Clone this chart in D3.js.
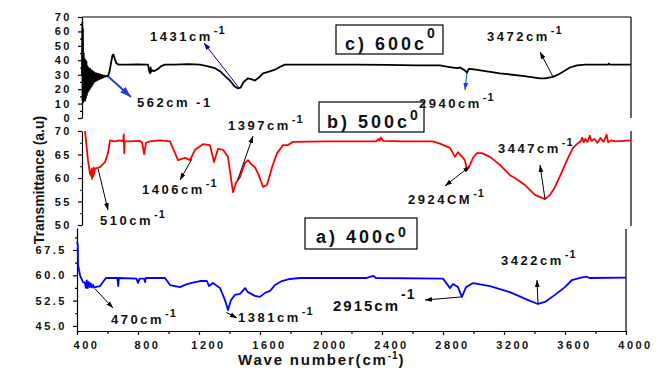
<!DOCTYPE html>
<html>
<head>
<meta charset="utf-8">
<script src="https://cdn.jsdelivr.net/npm/d3@7"></script>
<style>
  body { margin: 0; background: #fff; }
  svg text { font-family: "Liberation Sans", Arial, sans-serif; font-weight: bold; fill: #111; }
</style>
</head>
<body>
<svg id="chart" width="662" height="374"></svg>
<script>
// FTIR spectra, [wave number, transmittance]
const spectrum600 = [[400,30],[402,66],[404,12],[406,62],[408,11],[411,45],[414,13],[417,41],[420,12],[423,40],
  [426,14],[429,39],[432,16],[435,36],[438,18],[441,35],[444,19],[447,34],[450,20],[453,34],[456,21],[459,33],
  [462,22],[465,33],[468,23],[471,32],[474,24],[477,32],[480,25],[484,31],[488,25.5],[492,31],[496,26],[500,30.5],
  [505,26.5],[510,30.5],[515,27],[520,30],[526,27.5],[532,29.8],[538,28],[545,29.5],[552,28.5],[560,29.2],[570,29],
  [580,32],[590,38],[600,43.5],[606,44],[615,41],[625,38],[640,37],[700,37],[760,37.2],[833,37],[840,33],[846,31],
  [850,35],[855,32],[862,33],[875,32.5],[898,34],[920,36],[944,37],[1000,37],[1100,37.3],[1174,37],[1220,36],
  [1272,34.5],[1310,32],[1338,29],[1370,26],[1400,22],[1423,20.5],[1440,21],[1460,25],[1489,27.5],[1510,27],
  [1534,26],[1560,28],[1587,31],[1620,32],[1666,33.5],[1700,35.5],[1731,37],[1800,37],[2000,37],[2200,37],
  [2400,36.8],[2600,36.5],[2748,36.5],[2800,35.5],[2859,34.5],[2880,35],[2910,33],[2925,31.5],[2935,34],[2960,33.8],
  [3141,31],[3300,29],[3403,27.5],[3436,27.5],[3489,28.5],[3530,30.5],[3554,32],[3600,35],[3646,36.5],[3700,37],
  [3800,37],[3850,37],[3855,37.8],[3860,37],[3900,37],[4000,37]];

const spectrum500 = [[420,70],[426,68],[439,63.8],[452,61],[459,60.5],[463,62],[466,59.8],[470,61.5],[473,60.3],
  [477,62.2],[480,60.8],[485,62],[518,62.3],[551,63.4],[570,65.3],[584,68],[616,67.8],[649,68],[670,67.8],[674,69.3],
  [677,65.3],[680,67.8],[715,67.8],[780,67.9],[795,67.5],[807,65.1],[820,67.5],[846,67.8],[911,68],[977,67.8],
  [1010,65.3],[1030,63.8],[1075,64.3],[1108,63.8],[1141,66],[1193,67.2],[1239,67],[1266,63.4],[1292,66.2],
  [1325,66],[1357,64.5],[1390,57],[1410,59],[1436,60.2],[1469,63.2],[1488,63.8],[1515,62.8],[1534,62.3],[1554,61],
  [1587,58.1],[1613,58.5],[1646,62.3],[1679,65.3],[1718,67],[1751,67],[1784,67.7],[2000,67.8],[2200,67.8],
  [2330,67.8],[2345,68.3],[2350,67.9],[2360,68.6],[2375,67.9],[2500,67.8],[2700,67.8],[2747,67.3],[2813,66.4],
  [2846,64.5],[2865,65.5],[2911,63.8],[2924,61.7],[2944,62.8],[2964,64.3],[2990,65.3],[3023,65.3],[3075,64.5],
  [3141,62.8],[3206,60.6],[3239,60],[3305,58.5],[3370,56.4],[3436,55.5],[3469,56.4],[3502,58.1],[3547,61.3],
  [3587,64.3],[3620,66.4],[3652,67.4],[3670,67.8],[3680,68.6],[3690,67.6],[3700,68.3],[3715,67.7],[3730,69],
  [3740,67.9],[3760,68.3],[3780,67.5],[3800,68.5],[3820,67.7],[3840,69.2],[3850,67.6],[3870,68],[3900,67.8],
  [3950,67.9],[4000,68]];

const spectrum400 = [[400,70],[405,69],[407,63],[420,60],[439,58],[452,57.8],[458,56.3],[464,58.5],[470,56.2],
  [477,58],[484,56.5],[490,57.6],[497,56.4],[505,57.2],[512,56.3],[518,56.5],[551,56.8],[570,58],[590,59.2],
  [665,59.2],[670,56.8],[675,59.2],[790,59],[800,57.7],[810,59],[840,59],[846,58],[852,59.2],[977,59.2],
  [1010,57.1],[1075,56.5],[1121,57.4],[1174,58],[1207,58.3],[1252,58.3],[1266,56.8],[1292,57.7],[1338,56.2],
  [1370,52.7],[1390,49.7],[1410,52.7],[1436,54.2],[1469,54.5],[1502,56.2],[1521,55],[1567,53.9],[1600,53.6],
  [1633,54.8],[1666,55.4],[1698,57.1],[1744,58.3],[1797,58.9],[1862,59.2],[2300,59.2],[2345,59.8],[2360,59.2],
  [2800,59],[2846,56.2],[2866,57.4],[2898,56.5],[2924,53.6],[2951,56.5],[2997,57.7],[3108,56.8],[3239,55],
  [3370,52.4],[3423,51.5],[3469,52.1],[3534,54.2],[3600,56.5],[3646,58.6],[3698,59.2],[3740,59.6],[3760,59.2],
  [4000,59.3]];

const xTicks = [400, 800, 1200, 1600, 2000, 2400, 2800, 3200, 3600, 4000];
const xMinor = [600, 1000, 1400, 1800, 2200, 2600, 3000, 3400, 3800];
const yTicks600 = [0, 10, 20, 30, 40, 50, 60, 70];
const yMinor600 = [5, 15, 25, 35, 45, 55, 65];
const yTicks500 = [50, 55, 60, 65, 70];
const yMinor500 = [52.5, 57.5, 62.5, 67.5];
const yTicks400 = [45, 52.5, 60, 67.5];
const yMinor400 = [48.75, 56.25, 63.75, 71.25];

const svg = d3.select("#chart");

// arrow heads
const defs = svg.append("defs");
function head(id, color, size) {
  defs.append("marker").attr("id", id)
    .attr("viewBox", "0 -5 10 10").attr("refX", 10).attr("refY", 0)
    .attr("markerUnits", "userSpaceOnUse")
    .attr("markerWidth", size).attr("markerHeight", size)
    .attr("orient", "auto-start-reverse")
    .append("path").attr("d", "M0,-3.5L10,0L0,3.5Z").attr("fill", color);
}
head("hk", "#000", 7);
head("hn", "#00008b", 7);
head("hb", "#1c3fd6", 7);
head("hbig", "#1c3fd6", 11);

// scales: upper two panels sit 5px right of the bottom one
const xUp = d3.scaleLinear().domain([400, 4000]).range([82, 631]);
const xLow = d3.scaleLinear().domain([400, 4000]).range([77, 626]);
const y600 = d3.scaleLinear().domain([0, 70]).range([118, 17]);
const y500 = d3.scaleLinear().domain([50, 70]).range([225, 131]);
const y400 = d3.scaleLinear().domain([43.5, 74]).range([331, 228]);

function yAxis(x, scale, major, minor, fmt) {
  const g = svg.append("g").attr("transform", "translate(" + x + ",0)");
  g.call(d3.axisLeft(scale).tickValues(major).tickSize(4).tickSizeOuter(0).tickPadding(8).tickFormat(fmt));
  g.append("g").call(d3.axisLeft(scale).tickValues(minor).tickSize(2).tickFormat(""))
    .select(".domain").remove();
  g.selectAll("path, line").attr("stroke", "#000").attr("stroke-width", 1.2);
  g.selectAll("text").style("font-size", "11px").style("letter-spacing", "2.5px")
    .attr("dx", 2).attr("fill", "#111");
}
yAxis(82, y600, yTicks600, yMinor600, d3.format("d"));
yAxis(82, y500, yTicks500, yMinor500, d3.format("d"));
yAxis(77, y400, yTicks400, yMinor400, d3.format(".1f"));

// bottom x axis
const gx = svg.append("g").attr("transform", "translate(0,331)");
gx.call(d3.axisBottom(xLow).tickValues(xTicks).tickSize(4).tickSizeOuter(0).tickPadding(6).tickFormat(d3.format("d")));
gx.append("g").call(d3.axisBottom(xLow).tickValues(xMinor).tickSize(3).tickFormat("")).select(".domain").remove();
gx.selectAll("path, line").attr("stroke", "#000").attr("stroke-width", 1.2);
gx.selectAll("text").style("font-size", "11px").style("letter-spacing", "2.5px").attr("dx", 9).attr("fill", "#111");

// frame pieces
const frame = [[82, 17, 631, 17], [631, 17, 631, 118], [631, 131, 631, 226], [626, 229, 626, 331]];
svg.selectAll(".frame").data(frame).enter().append("line")
  .attr("x1", d => d[0]).attr("y1", d => d[1]).attr("x2", d => d[2]).attr("y2", d => d[3])
  .attr("stroke", "#000").attr("stroke-width", 1.2);

// spectra
function draw(data, x, y, color) {
  svg.append("path").datum(data)
    .attr("d", d3.line().x(d => x(d[0])).y(d => y(d[1])))
    .attr("fill", "none").attr("stroke", color).attr("stroke-width", 1.8).attr("stroke-linejoin", "round");
}
draw(spectrum600, xUp, y600, "#000");
draw(spectrum500, xUp, y500, "#ff0000");
draw(spectrum400, xLow, y400, "#0000ff");

// temperature boxes
const boxes = [
  { x: 336, y: 25, w: 107, h: 29, t: "c) 600c", tx: 345, ty: 50, sy: 38 },
  { x: 319, y: 102, w: 105, h: 30, t: "b) 500c", tx: 327, ty: 128, sy: 120 },
  { x: 305, y: 218, w: 112, h: 31, t: "a) 400c", tx: 316, ty: 243, sy: 237 }
];
boxes.forEach(b => {
  svg.append("rect").attr("x", b.x).attr("y", b.y).attr("width", b.w).attr("height", b.h)
    .attr("fill", "none").attr("stroke", "#000").attr("stroke-width", 1.2);
  const t = svg.append("text").attr("x", b.tx).attr("y", b.ty)
    .style("font-size", "18px").style("letter-spacing", "3px").text(b.t);
  t.append("tspan").attr("dy", b.sy - b.ty).style("font-size", "14px").style("letter-spacing", "0px").text("0");
});

// peak annotations
const notes = [
  { t: "1431cm", s: "-1", tx: 150, ty: 41, from: [xUp(1425), y600(21.5)], to: [204, 43], c: "#00008b", m: "hn", w: 1 },
  { t: "562cm -1", s: "", tx: 137, ty: 107, from: [xUp(570), y600(29)], to: [131, 97], c: "#1c3fd6", m: "hbig", w: 2 },
  { t: "3472cm", s: "-1", tx: 487, ty: 41, from: [xUp(3489), y600(28.5)], to: [540, 52], c: "#000", m: "hk", w: 1 },
  { t: "2940cm", s: "-1", tx: 419, ty: 108, from: [xUp(2925), y600(31.5)], to: [465, 90], c: "#1c3fd6", m: "hb", w: 1 },
  { t: "1397cm", s: "-1", tx: 228, ty: 130, from: [xUp(1420), y500(59.5)], to: [253, 136], c: "#000", m: "hk", w: 1 },
  { t: "1406cm", s: "-1", tx: 142, ty: 194, from: [xUp(1120), y500(64)], to: [180, 180], c: "#000", m: "hk", w: 1 },
  { t: "510cm", s: "-1", tx: 100, ty: 225, from: [xUp(505), y500(62)], to: [108, 210], c: "#000", m: "hk", w: 1 },
  { t: "2924CM", s: "-1", tx: 408, ty: 204, from: [xUp(2944), y500(62.5)], to: [445, 186], c: "#000", m: "hk", w: 1, both: true },
  { t: "3447cm", s: "-1", tx: 498, ty: 153, from: [xUp(3436), y500(55.5)], to: [540, 165], c: "#000", m: "hk", w: 1 },
  { t: "470cm", s: "-1", tx: 111, ty: 324, from: [xLow(518), y400(56)], to: [113, 308], c: "#000", m: "hk", w: 1 },
  { t: "1381cm", s: "-1", tx: 238, ty: 322, from: [xLow(1380), y400(49)], to: [237, 318], c: "#000", m: "hk", w: 1 },
  { t: "2915cm", s: "-1", tx: 333, ty: 311, from: [xLow(2924), y400(53.6)], to: [425, 300], c: "#000", m: "hk", w: 1, big: true },
  { t: "3422cm", s: "-1", tx: 501, ty: 265, from: [xLow(3423), y400(51.5)], to: [537, 280], c: "#000", m: "hk", w: 1 }
];
notes.forEach(n => {
  const ln = svg.append("line")
    .attr("x1", n.from[0]).attr("y1", n.from[1]).attr("x2", n.to[0]).attr("y2", n.to[1])
    .attr("stroke", n.c).attr("stroke-width", n.w).attr("marker-end", "url(#" + n.m + ")");
  if (n.both) ln.attr("marker-start", "url(#" + n.m + ")");
  const t = svg.append("text").attr("x", n.tx).attr("y", n.ty)
    .style("font-size", n.big ? "15px" : "13px").style("letter-spacing", n.big ? "2px" : "2.5px").text(n.t);
  if (n.s) t.append("tspan").attr("dx", 1).attr("dy", n.big ? -12 : -7)
    .style("font-size", n.big ? "14px" : "11px").style("letter-spacing", "1px").text(n.s);
});

// axis titles
const xt = svg.append("text").attr("x", 238).attr("y", 365)
  .style("font-size", "15px").style("letter-spacing", "1.8px").text("Wave number(cm");
xt.append("tspan").attr("dy", -6).style("font-size", "10px").style("letter-spacing", "1px").text("-1");
xt.append("tspan").attr("dy", 6).style("font-size", "15px").text(")");

svg.append("text").attr("transform", "translate(44,180) rotate(-90)")
  .attr("text-anchor", "middle").style("font-size", "14px").text("Transmittance (a.u)");
</script>
</body>
</html>
